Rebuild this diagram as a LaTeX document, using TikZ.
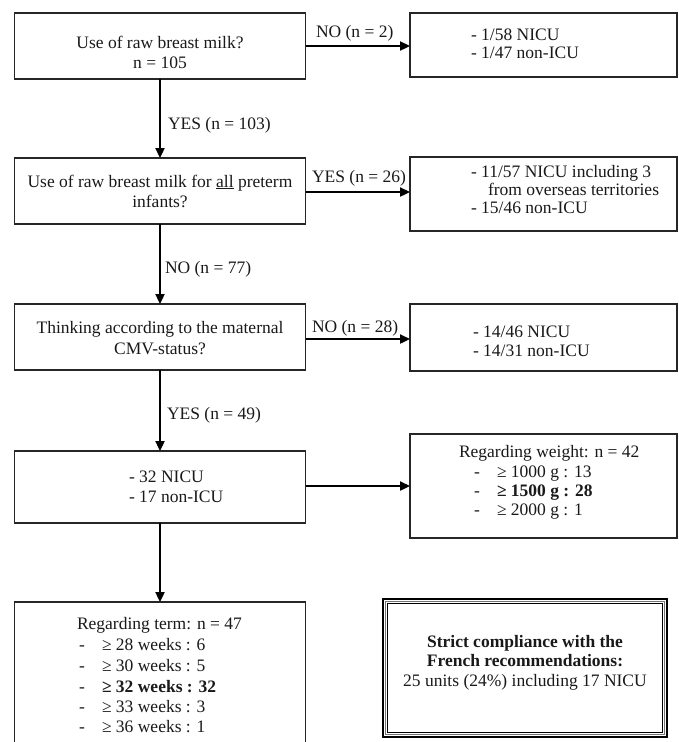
\documentclass[tikz,border=0pt]{standalone}
\usepackage{fontspec}
\setmainfont{Liberation Serif}
\usetikzlibrary{arrows.meta}
\begin{document}
\begin{tikzpicture}[x=1pt,y=-1pt,
  box/.style={draw=black!85, line width=1.2pt, inner sep=0pt, outer sep=0pt},
  txt/.style={inner sep=0pt, outer sep=0pt, text=black!90, font=\fontsize{17.5}{20}\selectfont},
  arr/.style={draw=black, line width=2.3pt, -{Triangle[length=10pt,width=9pt]}}]
\useasboundingbox (0,0) rectangle (678,742);
\clip (0,0) rectangle (678,742);
% left column boxes
\node[box, minimum width=291pt, minimum height=66pt] (b1) at (160,46) {};
\node[box, minimum width=291pt, minimum height=66pt] (b2) at (160,191) {};
\node[box, minimum width=291pt, minimum height=66pt] (b3) at (160,337) {};
\node[box, minimum width=291pt, minimum height=72pt] (b4) at (160,487) {};
\node[box, minimum width=291pt, minimum height=158pt] (b5) at (160,681) {};
% right column boxes
\node[box, minimum width=267pt, minimum height=64pt] (r1) at (543.5,45) {};
\node[box, minimum width=267pt, minimum height=74pt] (r2) at (543.5,194) {};
\node[box, minimum width=267pt, minimum height=67pt] (r3) at (543.5,337.5) {};
\node[box, minimum width=267pt, minimum height=104pt] (r4) at (543.5,486) {};
% double framed box
\node[draw=black, line width=2.4pt, inner sep=0pt, minimum width=284pt, minimum height=138pt] (fr) at (525,668) {};
\node[draw=black!55, line width=1.6pt, inner sep=0pt, minimum width=279pt, minimum height=133pt] (frm) at (fr.center) {};
\node[draw=black, line width=1pt, inner sep=0pt, minimum width=275pt, minimum height=129pt] (fri) at (fr.center) {};
% texts of left boxes
\node[txt, anchor=base] (t1a) at (160,48) {Use of raw breast milk?};
\node[txt, anchor=base] (t1b) at (160,68) {n = 105};
\node[txt, anchor=base] (t2a) at (160,187) {Use of raw breast milk for \underline{all} preterm};
\node[txt, anchor=base] (t2b) at (160,207) {infants?};
\node[txt, anchor=base] (t3a) at (160,333) {Thinking according to the maternal};
\node[txt, anchor=base] (t3b) at (160,354) {CMV-status?};
\node[txt, anchor=base west] (t4a) at (129,482) {- 32 NICU};
\node[txt, anchor=base west] (t4b) at (129,502) {- 17 non-ICU};
\node[txt, anchor=base west] (t5h) at (77,629) {Regarding term: n = 47};
\foreach \yy/\tt/\nm in {650/{≥ 28 weeks : 6}/a, 671/{≥ 30 weeks : 5}/b, 692/{\bfseries ≥ 32 weeks : 32}/c, 712/{≥ 33 weeks : 3}/d, 732/{≥ 36 weeks : 1}/e}{
  \node[txt, anchor=base west] (t5d\nm) at (79,\yy) {-};
  \node[txt, anchor=base west] (t5i\nm) at (102,\yy) {\tt};
}
% texts of right boxes
\node[txt, anchor=base west] (u1a) at (471,40.5) {- 1/58 NICU};
\node[txt, anchor=base west] (u1b) at (471,58.5) {- 1/47 non-ICU};
\node[txt, anchor=base west] (u2a) at (471,177) {- 11/57 NICU including 3};
\node[txt, anchor=base west] (u2b) at (488,195) {from overseas territories};
\node[txt, anchor=base west] (u2c) at (471,213) {- 15/46 non-ICU};
\node[txt, anchor=base west] (u3a) at (473,337) {- 14/46 NICU};
\node[txt, anchor=base west] (u3b) at (473,356) {- 14/31 non-ICU};
\node[txt, anchor=base west] (u4h) at (459,457) {Regarding weight: n = 42};
\foreach \yy/\tt/\nm in {477/{≥ 1000 g : 13}/a, 496/{\bfseries ≥ 1500 g : 28}/b, 515/{≥ 2000 g : 1}/c}{
  \node[txt, anchor=base west] (u4d\nm) at (474,\yy) {-};
  \node[txt, anchor=base west] (u4i\nm) at (497,\yy) {\tt};
}
% framed text
\node[txt, anchor=base] (fa) at (525,647) {\bfseries Strict compliance with the};
\node[txt, anchor=base] (fb) at (525,666) {\bfseries French recommendations:};
\node[txt, anchor=base] (fc) at (525,686) {25 units (24\%) including 17 NICU};
% connectors
\draw[arr] (b1.south) -- (b2.north);
\draw[arr] (b2.south) -- (b3.north);
\draw[arr] (b3.south) -- (b4.north);
\draw[arr] (b4.south) -- (b5.north);
\draw[arr] (b1.east) -- (b1.east -| r1.west);
\draw[arr] ([yshift=-1pt]b2.east) -- ([yshift=-1pt]b2.east -| r2.west);
\draw[arr] ([yshift=-2pt]b3.east) -- ([yshift=-2pt]b3.east -| r3.west);
\draw[arr] ([yshift=1pt]b4.east) -- ([yshift=1pt]b4.east -| r4.west);
% connector labels
\node[txt, anchor=base west] (l1) at (168,129) {YES (n = 103)};
\node[txt, anchor=base west] (l2) at (165,273) {NO (n = 77)};
\node[txt, anchor=base west] (l3) at (167,419) {YES (n = 49)};
\node[txt, anchor=base west] (l4) at (316,37) {NO (n = 2)};
\node[txt, anchor=base west] (l5) at (312,182) {YES (n = 26)};
\node[txt, anchor=base west] (l6) at (312,332) {NO (n = 28)};
\end{tikzpicture}
\end{document}
